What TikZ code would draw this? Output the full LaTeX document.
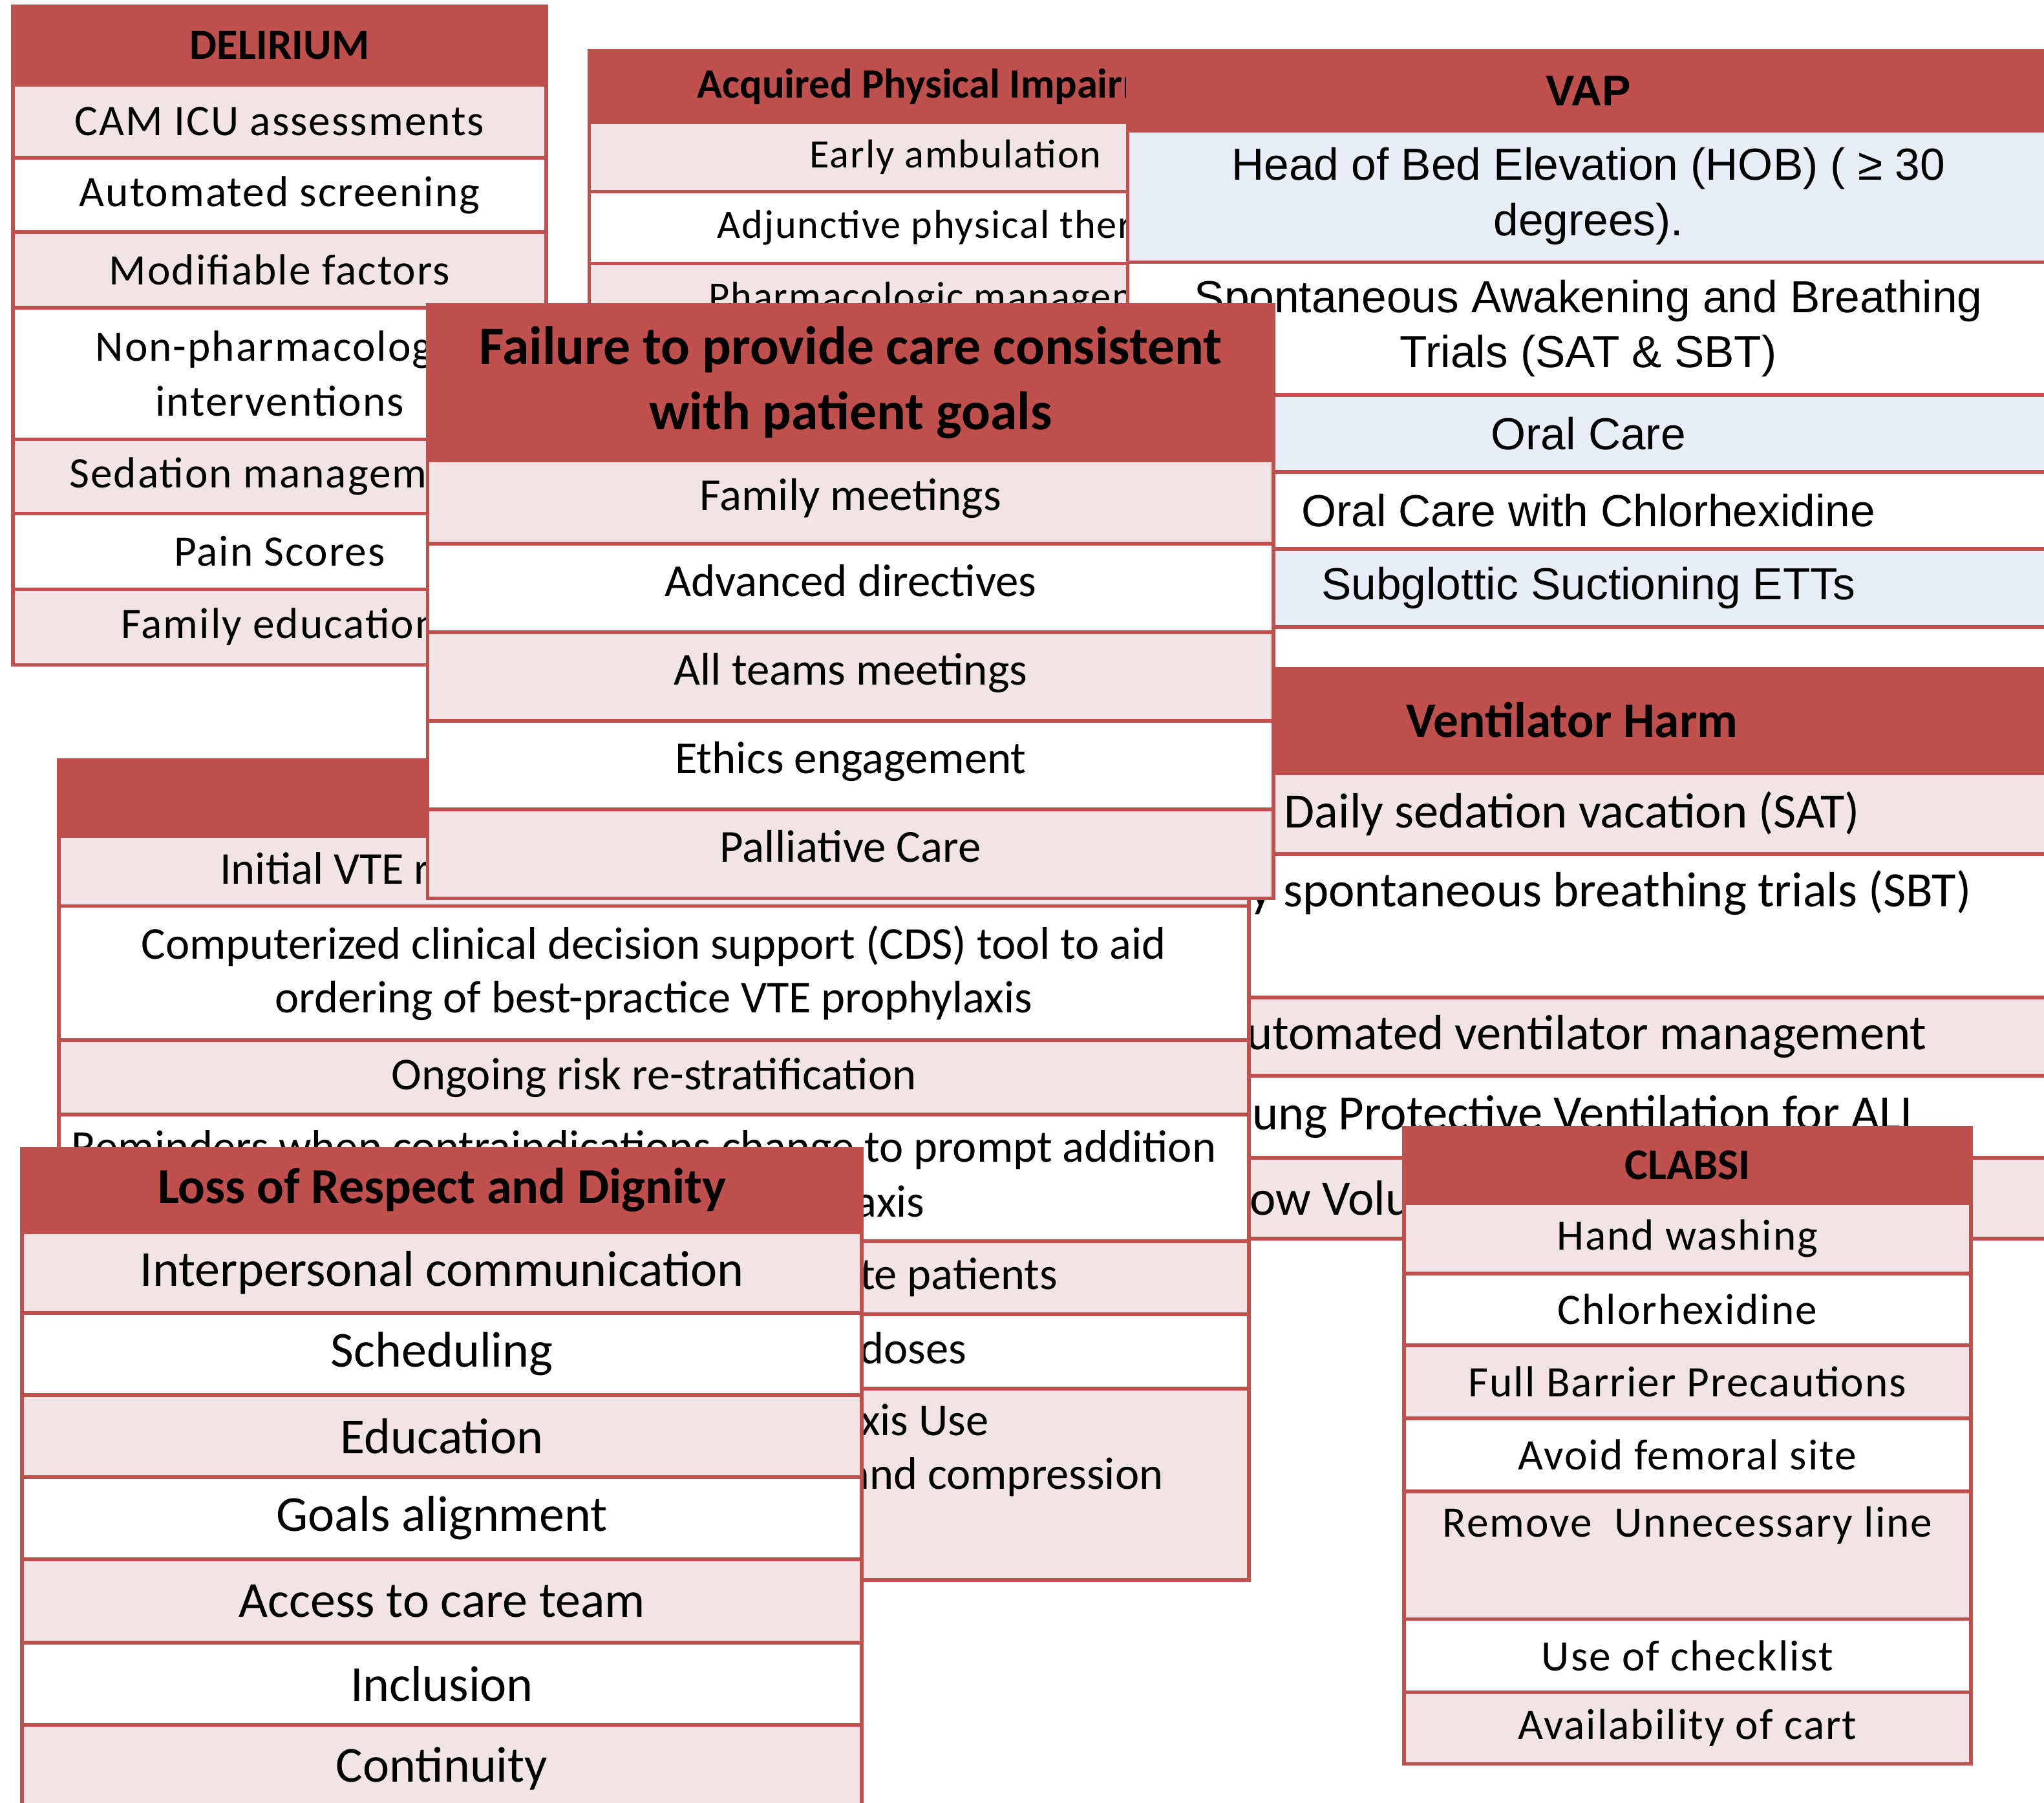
\documentclass[tikz,border=0pt]{standalone}
\usepackage{fontspec}
\setmainfont{Carlito}
\newfontfamily\spc[LetterSpace=3]{Carlito}
\newfontfamily\arl{Liberation Sans}
\definecolor{hdrred}{HTML}{C0504D}
\definecolor{rowpink}{HTML}{F2E4E4}
\definecolor{rowblue}{HTML}{E9EDF8}

\begin{document}
\begin{tikzpicture}[x=0.1mm, y=-0.1mm,
    cell/.style={draw=hdrred, line width=0.8pt, inner sep=0pt, outer sep=0pt, align=center},
    hd/.style={cell, fill=hdrred},
    pk/.style={cell, fill=rowpink},
    wt/.style={cell, fill=white},
    bl/.style={cell, fill=rowblue},
    txt/.style={inner sep=0pt, align=center},
    fdel/.style={font=\spc\fontsize{9.5}{12}\selectfont},
    facq/.style={font=\spc\fontsize{8.8}{11}\selectfont},
    fvap/.style={font=\arl\fontsize{9.8}{12}\selectfont},
    fvh/.style={font=\fontsize{10.8}{13}\selectfont},
    fvte/.style={font=\fontsize{9.95}{11.7}\selectfont},
    ffail/.style={font=\fontsize{10}{12}\selectfont},
    floss/.style={font=\fontsize{11}{13}\selectfont},
    fcla/.style={font=\spc\fontsize{9.5}{12}\selectfont},
    del/.style={minimum width=40.9mm, fdel},
    acq/.style={minimum width=56.2mm, facq},
    vap/.style={minimum width=70.7mm, fvap},
    vh/.style={minimum width=73.2mm, fvh},
    vte/.style={minimum width=91.3mm, fvte},
    fail/.style={minimum width=64.9mm, ffail, text height=7pt, text depth=3.4pt},
    loss/.style={minimum width=64.4mm, floss},
    cla/.style={minimum width=43.5mm, fcla}]

  \useasboundingbox (0,0) rectangle (1568,1383);
  \clip (0,0) rectangle (1568,1383);

  % delirium
  \node[hd, del, minimum height=6mm, font=\bfseries\fontsize{9.4}{11}\selectfont] (del0) at (214.5,35) {DELIRIUM};
  \node[pk, del, minimum height=5.6mm] (del1) at (214.5,93) {CAM ICU assessments};
  \node[wt, del, minimum height=5.7mm] (del2) at (214.5,149.5) {Automated screening};
  \node[pk, del, minimum height=5.8mm] (del3) at (214.5,207) {Modifiable factors};
  \node[wt, del, minimum height=10.1mm] (del4) at (214.5,286.5) {Non-pharmacologic\\interventions};
  \node[pk, del, minimum height=5.7mm] (del5) at (214.5,365.5) {Sedation management};
  \node[wt, del, minimum height=5.8mm] (del6) at (214.5,423) {Pain Scores};
  \node[pk, del, minimum height=5.8mm] (del7) at (214.5,481) {Family education};

  % acquired physical impairment
  \node[hd, acq, minimum height=5.5mm, font=\bfseries\fontsize{9.1}{11}\selectfont] (acq0) at (733,66.5) {Acquired Physical Impairment};
  \node[pk, acq, minimum height=5.3mm] (acq1) at (733,120.5) {Early ambulation};
  \node[wt, acq, minimum height=5.5mm] (acq2) at (733,174.5) {Adjunctive physical therapy};
  \node[pk, acq, minimum height=5.5mm] (acq3) at (733,229.5) {Pharmacologic management};

  % vap
  \node[hd, vap, minimum height=6.1mm, font=\arl\bfseries\fontsize{9.4}{11}\selectfont] (vap0) at (1218.5,69.5) {VAP};
  \node[bl, vap, minimum height=10.1mm] (vap1) at (1218.5,150.5) {Head of Bed Elevation (HOB) ( ≥ 30\\degrees).};
  \node[wt, vap, minimum height=10.2mm] (vap2) at (1218.5,252) {Spontaneous Awakening and Breathing\\Trials (SAT \& SBT)};
  \node[bl, vap, minimum height=5.9mm] (vap3) at (1218.5,332.5) {Oral Care};
  \node[wt, vap, minimum height=5.9mm] (vap4) at (1218.5,391.5) {Oral Care with Chlorhexidine};
  \node[bl, vap, minimum height=6mm] (vap5) at (1218.5,451) {Subglottic Suctioning ETTs};
  \node[wt, vap, minimum height=7.9mm] (vap6) at (1218.5,520.5) {};

  % ventilator harm
  \node[hd, vh, minimum height=7.8mm, font=\bfseries\fontsize{10.9}{13}\selectfont] (vh0) at (1206,552) {Ventilator Harm};
  \node[pk, vh, minimum height=6.2mm] (vh1) at (1206,624) {Daily sedation vacation (SAT)};
  \node[wt, vh, minimum height=11mm] (vh2) at (1206,710) {};
  \node[txt, fvh] (vh2t) at (1206,685) {Daily spontaneous breathing trials (SBT)};
  \node[pk, vh, minimum height=6mm] (vh3) at (1206,795) {Automated ventilator management};
  \node[wt, vh, minimum height=6.3mm] (vh4) at (1206,856.5) {Lung Protective Ventilation for ALI};
  \node[pk, vh, minimum height=6.2mm] (vh5) at (1206,919) {};
  \node[txt, fvh, anchor=west] (vh5t) at (942,919) {Low Volume};

  % vte
  \node[hd, vte, minimum height=5.8mm] (vte0) at (501.5,612) {};
  \node[pk, vte, minimum height=5.4mm] (vte1) at (501.5,668) {};
  \node[txt, fvte, anchor=west] (vte1t) at (168,666) {Initial VTE risk};
  \node[wt, vte, minimum height=10.3mm] (vte2) at (501.5,746.5) {Computerized clinical decision support (CDS) tool to aid\\ordering of best-practice VTE prophylaxis};
  \node[pk, vte, minimum height=5.7mm] (vte3) at (501.5,826.5) {Ongoing risk re-stratification};
  \node[wt, vte, minimum height=9.7mm] (vte4) at (501.5,903.5) {};
  \node[txt, fvte] (vte4a) at (494,882) {Reminders when contraindications change to prompt addition};
  \node[txt, fvte, anchor=east] (vte4b) at (710,924) {prophylaxis};
  \node[pk, vte, minimum height=5.6mm] (vte5) at (501.5,980) {};
  \node[txt, fvte, anchor=east] (vte5t) at (812,980) {te patients};
  \node[wt, vte, minimum height=5.7mm] (vte6) at (501.5,1036.5) {};
  \node[txt, fvte, anchor=east] (vte6t) at (742,1034) {doses};
  \node[pk, vte, minimum height=14.7mm] (vte7) at (501.5,1138.5) {};
  \node[txt, fvte, anchor=east] (vte7a) at (759,1092) {Prophylaxis Use};
  \node[txt, fvte, anchor=east] (vte7b) at (893,1133) {and compression};

  % failure to provide care
  \node[hd, minimum width=64.9mm, minimum height=11.9mm, font=\bfseries\fontsize{11.8}{14.2}\selectfont] (fail0) at (652.5,293.5) {Failure to provide care consistent\\with patient goals};
  \node[pk, fail, minimum height=6.4mm] (fail1) at (652.5,385) {Family meetings};
  \node[wt, fail, minimum height=6.8mm] (fail2) at (652.5,451) {Advanced directives};
  \node[pk, fail, minimum height=6.8mm] (fail3) at (652.5,519) {All teams meetings};
  \node[wt, fail, minimum height=6.8mm] (fail4) at (652.5,587) {Ethics engagement};
  \node[pk, fail, minimum height=6.8mm] (fail5) at (652.5,655) {Palliative Care};

  % loss of respect
  \node[hd, loss, minimum height=6.4mm, font=\bfseries\fontsize{11}{13}\selectfont] (loss0) at (339,913) {Loss of Respect and Dignity};
  \node[pk, loss, minimum height=6.2mm] (loss1) at (339,976) {Interpersonal communication};
  \node[wt, loss, minimum height=6.3mm] (loss2) at (339,1038.5) {Scheduling};
  \node[pk, loss, minimum height=6.3mm] (loss3) at (339,1101.5) {Education};
  \node[wt, loss, minimum height=6.3mm] (loss4) at (339,1164.5) {Goals alignment};
  \node[pk, loss, minimum height=6.4mm] (loss5) at (339,1228) {Access to care team};
  \node[wt, loss, minimum height=6.3mm] (loss6) at (339,1291.5) {Inclusion};
  \node[pk, loss, minimum height=6.7mm] (loss7) at (339,1356.5) {Continuity};

  % clabsi
  \node[hd, cla, minimum height=5.8mm, font=\bfseries\fontsize{9.6}{11}\selectfont] (cla0) at (1294.5,894) {CLABSI};
  \node[pk, cla, minimum height=5.4mm] (cla1) at (1294.5,950) {Hand washing};
  \node[wt, cla, minimum height=5.5mm] (cla2) at (1294.5,1004.5) {Chlorhexidine};
  \node[pk, cla, minimum height=5.6mm] (cla3) at (1294.5,1060) {Full Barrier Precautions};
  \node[wt, cla, minimum height=5.6mm] (cla4) at (1294.5,1116) {Avoid femoral site};
  \node[pk, cla, minimum height=9.8mm] (cla5) at (1294.5,1193) {};
  \node[txt, fcla] (cla5t) at (1294.5,1170) {Remove~ Unnecessary line};
  \node[wt, cla, minimum height=5.6mm] (cla6) at (1294.5,1270) {Use of checklist};
  \node[pk, cla, minimum height=5.5mm] (cla7) at (1294.5,1325.5) {Availability of cart};
\end{tikzpicture}
\end{document}
